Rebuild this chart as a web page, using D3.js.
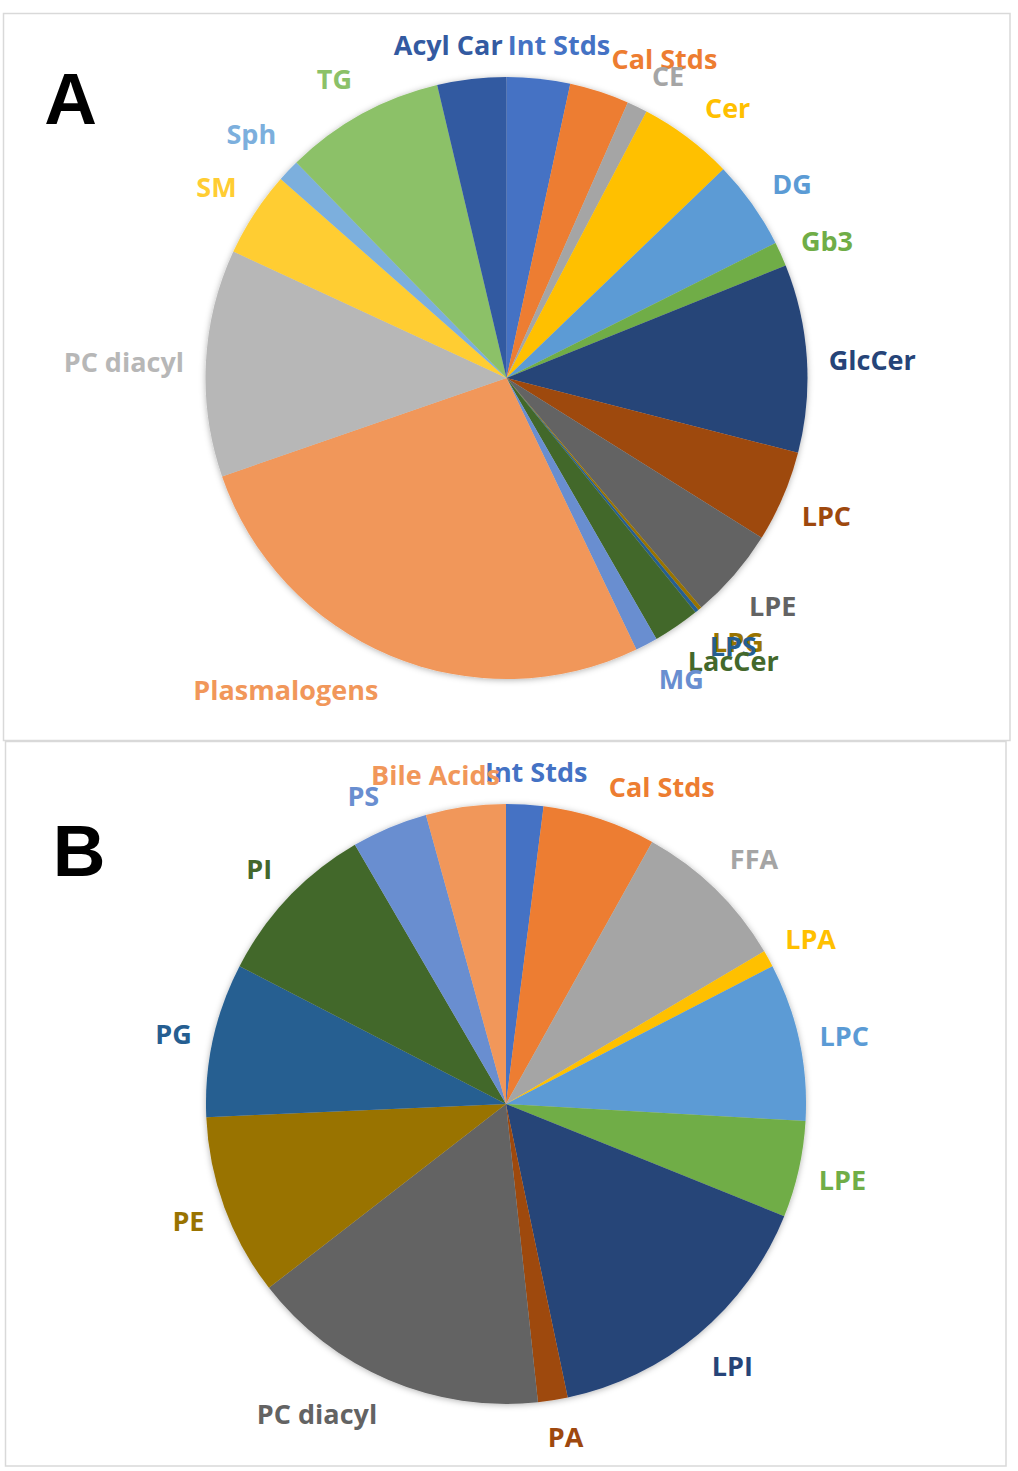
<!DOCTYPE html>
<html>
<head>
<meta charset="utf-8">
<script src="https://cdn.jsdelivr.net/npm/d3@7"></script>
<style>
  html, body { margin: 0; padding: 0; background: #fff; }
  svg { display: block; }
</style>
</head>
<body>
<div id="chart"></div>
<script>
// ---------------- DATA ----------------
const categoriesA = ["Int Stds","Cal Stds","CE","Cer","DG","Gb3","GlcCer","LPC","LPE","LPG","LPS","LacCer","MG","Plasmalogens","PC diacyl","SM","Sph","TG","Acyl Car"];
const valuesA     = [3.4, 3.2, 1.1, 5.1, 4.8, 1.3, 10.1, 4.9, 4.9, 0.2, 0.2, 2.5, 1.2, 26.8, 12.2, 4.6, 1.2, 8.6, 3.7];

const categoriesB = ["Int Stds","Cal Stds","FFA","LPA","LPC","LPE","LPI","PA","PC diacyl","PE","PG","PI","PS","Bile Acids"];
const valuesB     = [2.0, 6.1, 8.4, 0.9, 8.5, 5.2, 15.6, 1.6, 16.2, 9.8, 8.3, 9.0, 4.1, 4.3];

const panelLabels = ["A", "B"];

// ---------------- STYLE / LAYOUT ----------------
const colorsA = ["#4472C4","#ED7D31","#A5A5A5","#FFC000","#5B9BD5","#70AD47","#264478","#9E480E","#636363","#997300","#255E91","#43682B","#698ED0","#F1975A","#B7B7B7","#FFCD33","#7CAFDD","#8CC168","#335AA1"];
const colorsB = ["#4472C4","#ED7D31","#A5A5A5","#FFC000","#5B9BD5","#70AD47","#264478","#9E480E","#636363","#997300","#255E91","#43682B","#698ED0","#F1975A"];

// label nudges (px) from the default outside-end placement
const nudgeA = [[13,-3],[43,-3],[16,-3],[16,-4],[9,-2],[6,0],[4,4],[4,7],[7,11],[10,10],[10,11],[21,9],[16,7],[-62,6],[-4,1],[-6,-9],[-6,-15],[-10,-8],[-15,-3]];
const nudgeB = [[7,-1],[40,-2],[9,-8],[4,-4],[3,1],[3,4],[9,9],[7,6],[-41,6],[-4,3],[-4,1],[-7,-7],[-13,-3],[-19,-1]];

const W = 1018, H = 1471;
const svg = d3.select("#chart").append("svg").attr("width", W).attr("height", H);

const defs = svg.append("defs");
const f = defs.append("filter").attr("id", "shadow").attr("x", "-10%").attr("y", "-10%").attr("width", "120%").attr("height", "120%");
f.append("feDropShadow").attr("dx", 0).attr("dy", 1).attr("stdDeviation", 3).attr("flood-color", "#000").attr("flood-opacity", 0.3);

// panel frames
const frames = [
  {x: 3.5, y: 13.5, w: 1006.5, h: 727},
  {x: 5.5, y: 741.5, w: 1000.5, h: 724.5}
];
svg.selectAll("rect.frame").data(frames).enter().append("rect")
  .attr("class", "frame")
  .attr("x", d => d.x).attr("y", d => d.y)
  .attr("width", d => d.w).attr("height", d => d.h)
  .attr("fill", "none").attr("stroke", "#d9d9d9").attr("stroke-width", 1.5);

// panel letters
const letterPos = [{x: 70.5, y: 124}, {x: 79, y: 876}];
svg.selectAll("text.panel").data(panelLabels).enter().append("text")
  .attr("class", "panel")
  .attr("x", (d, i) => letterPos[i].x).attr("y", (d, i) => letterPos[i].y)
  .attr("text-anchor", "middle")
  .attr("font-family", "Liberation Sans, Arial, sans-serif")
  .attr("font-weight", "bold").attr("font-size", 73)
  .attr("fill", "#000")
  .text(d => d);

function drawPie(cats, vals, colors, nudges, cx, cy, r) {
  const g = svg.append("g").attr("transform", `translate(${cx},${cy})`);
  const data = cats.map((c, i) => ({cat: c, val: vals[i], color: colors[i], nudge: nudges[i]}));
  const pie = d3.pie().value(d => d.val).sort(null).startAngle(0).endAngle(2 * Math.PI);
  const arcs = pie(data);
  const arc = d3.arc().innerRadius(0).outerRadius(r);

  const slices = g.append("g").attr("filter", "url(#shadow)");
  slices.selectAll("path").data(arcs).enter().append("path")
    .attr("d", arc)
    .attr("fill", d => d.data.color);

  const R = r + 18;
  const labels = g.append("g");
  labels.selectAll("text").data(arcs).enter().append("text")
    .attr("text-anchor", "middle")
    .attr("dy", "0.36em")
    .attr("font-family", "Open Sans, sans-serif")
    .attr("font-weight", 700)
    .attr("font-size", 27)
    .attr("fill", d => d.data.color)
    .text(d => d.data.cat)
    .each(function(d) {
      const bb = this.getBBox();
      const a = (d.startAngle + d.endAngle) / 2;
      const ux = Math.sin(a), uy = -Math.cos(a);
      const x = R * ux + (bb.width / 2) * ux + d.data.nudge[0];
      const y = R * uy + 13 * uy + d.data.nudge[1];
      d3.select(this).attr("x", x).attr("y", y);
    });
}

drawPie(categoriesA, valuesA, colorsA, nudgeA, 506.5, 378, 301);
drawPie(categoriesB, valuesB, colorsB, nudgeB, 506, 1104, 300);
</script>
</body>
</html>
